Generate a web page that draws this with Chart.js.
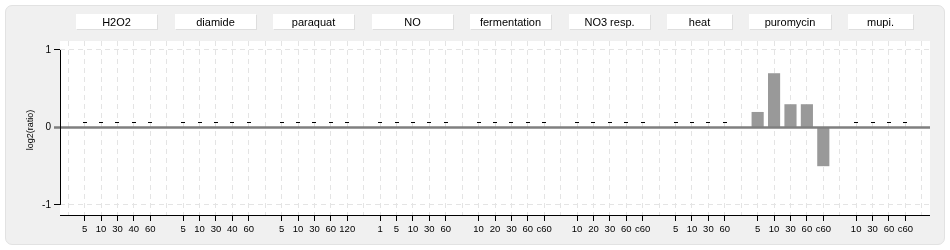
<!DOCTYPE html>
<html>
<head>
<meta charset="utf-8">
<script src="https://cdn.jsdelivr.net/npm/chart.js@4"></script>
<style>
  html, body { margin: 0; padding: 0; background: #fff; }
  #wrap { position: relative; width: 950px; height: 250px; }
  #panel {
    position: absolute; left: 5px; top: 5px; width: 938px; height: 238px;
    background: #f0f0f0; border: 1px solid #e2e2e2; border-radius: 7px;
  }
  #chart { position: absolute; left: 0; top: 0; }
</style>
</head>
<body>
<div id="wrap">
  <div id="panel"></div>
  <canvas id="chart" width="950" height="250"></canvas>
</div>
<script>
// conditions, time points and log2 ratios
const groupNames = ['H2O2', 'diamide', 'paraquat', 'NO', 'fermentation', 'NO3 resp.', 'heat', 'puromycin', 'mupi.'];
const groupTimes = [
    ['5', '10', '30', '40', '60'],
    ['5', '10', '30', '40', '60'],
    ['5', '10', '30', '60', '120'],
    ['1', '5', '10', '30', '60'],
    ['10', '20', '30', '60', 'c60'],
    ['10', '20', '30', '60', 'c60'],
    ['5', '10', '30', '60'],
    ['5', '10', '30', '60', 'c60'],
    ['10', '30', '60', 'c60']
];
const groupValues = [
    [0, 0, 0, 0, 0],
    [0, 0, 0, 0, 0],
    [0, 0, 0, 0, 0],
    [0, 0, 0, 0, 0],
    [0, 0, 0, 0, 0],
    [0, 0, 0, 0, 0],
    [0, 0, 0, 0],
    [0.2, 0.7, 0.3, 0.3, -0.5],
    [0, 0, 0, 0]
];
const yTicks = [-1, 0, 1];

// flatten into category slots, one empty slot between groups and at both ends
const labels = [''];
const values = [null];
const groupRanges = [];
groupTimes.forEach((times, g) => {
    const start = labels.length;
    times.forEach((t, i) => {
        labels.push(t);
        values.push(groupValues[g][i]);
    });
    groupRanges.push([start, labels.length - 1]);
    labels.push('');
    values.push(null);
});

const FONT = 'Liberation Sans, Arial, sans-serif';

const panelPlugin = {
    id: 'panel',
    beforeDraw(chart) {
        const { ctx, chartArea: a } = chart;
        ctx.save();
        ctx.fillStyle = '#fff';
        ctx.fillRect(a.left, a.top, a.right - a.left, a.bottom - a.top);
        ctx.restore();
    },
    afterDatasetsDraw(chart) {
        const { ctx, chartArea: a, scales: { x, y } } = chart;
        const y0 = y.getPixelForValue(0);
        const slot = x.getPixelForValue(1) - x.getPixelForValue(0);
        ctx.save();

        // zero line
        ctx.strokeStyle = '#7f7f7f';
        ctx.lineWidth = 2.5;
        ctx.beginPath();
        ctx.moveTo(a.left - 6, y0);
        ctx.lineTo(a.right, y0);
        ctx.stroke();

        // axis lines
        ctx.strokeStyle = '#000';
        ctx.lineWidth = 1;
        ctx.beginPath();
        ctx.moveTo(a.left + 0.5, y.getPixelForValue(1));
        ctx.lineTo(a.left + 0.5, y.getPixelForValue(-1));
        ctx.moveTo(a.left, a.bottom + 0.5);
        ctx.lineTo(a.right, a.bottom + 0.5);
        ctx.stroke();

        // dash markers for zero ratios
        ctx.fillStyle = '#000';
        values.forEach((v, i) => {
            if (v === 0) {
                const px = Math.round(x.getPixelForValue(i));
                ctx.fillRect(px - 2, Math.round(y0) - 5, 4, 1);
            }
        });

        // condition header boxes
        ctx.font = '11px ' + FONT;
        ctx.textAlign = 'center';
        ctx.textBaseline = 'middle';
        groupRanges.forEach(([s, e], g) => {
            const left = Math.round(x.getPixelForValue(s) - slot / 2);
            const right = Math.round(x.getPixelForValue(e) + slot / 2) - 1;
            ctx.fillStyle = '#dedede';
            ctx.fillRect(left + 1, 15, right - left, 15);
            ctx.fillStyle = '#fff';
            ctx.fillRect(left, 14, right - left, 15);
            ctx.fillStyle = '#000';
            ctx.fillText(groupNames[g], (left + right) / 2, 22.5);
        });

        // y axis title
        ctx.font = '9px ' + FONT;
        ctx.translate(31, 130);
        ctx.rotate(-Math.PI / 2);
        ctx.fillText('log2(ratio)', 0, 0);
        ctx.restore();
    }
};

new Chart(document.getElementById('chart'), {
    type: 'bar',
    data: {
        labels: labels,
        datasets: [{
            data: values,
            backgroundColor: '#999999',
            borderWidth: 0,
            barPercentage: 0.74,
            categoryPercentage: 1
        }]
    },
    options: {
        responsive: false,
        animation: false,
        events: [],
        layout: { padding: { left: 0, right: 20, top: 41, bottom: 0 } },
        plugins: { legend: { display: false }, tooltip: { enabled: false } },
        scales: {
            x: {
                type: 'category',
                offset: true,
                afterFit: (scale) => { scale.height = 35; },
                border: { display: false, dash: [5, 4] },
                grid: {
                    offset: false,
                    color: '#e4e4e4',
                    tickLength: 6,
                    tickBorderDash: [],
                    tickColor: (c) => labels[c.index] ? '#000' : 'rgba(0,0,0,0)'
                },
                ticks: {
                    autoSkip: false, maxRotation: 0, padding: 3,
                    color: '#000', font: { family: FONT, size: 9.5 }
                }
            },
            y: {
                min: -1.13,
                max: 1.116,
                afterFit: (scale) => { scale.width = 60; },
                afterBuildTicks: (scale) => { scale.ticks = yTicks.map(v => ({ value: v })); },
                border: { display: false, dash: [5, 4] },
                grid: {
                    color: (c) => c.tick && c.tick.value === 0 ? 'rgba(0,0,0,0)' : '#e4e4e4',
                    tickLength: 6,
                    tickBorderDash: [],
                    tickColor: (c) => c.tick && c.tick.value === 0 ? 'rgba(0,0,0,0)' : '#000'
                },
                ticks: {
                    padding: 3,
                    color: '#000', font: { family: FONT, size: 10 }
                }
            }
        }
    },
    plugins: [panelPlugin]
});
</script>
</body>
</html>
